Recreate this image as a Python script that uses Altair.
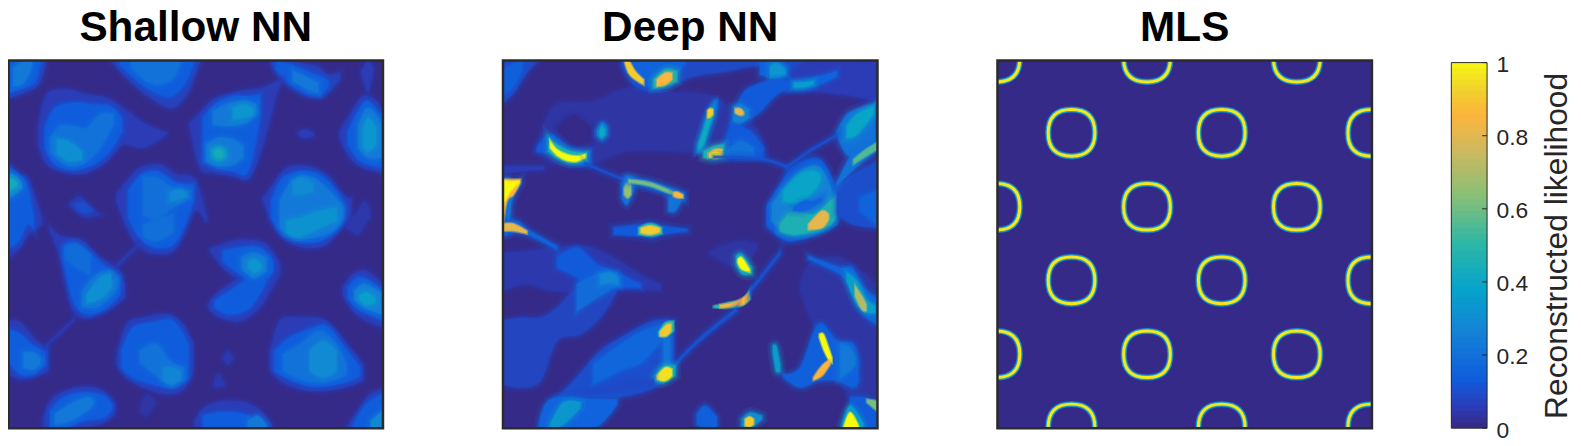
import altair as alt
import pandas as pd

PARULA_STOPS = [0, 0.05, 0.125, 0.25, 0.375, 0.5, 0.625, 0.75, 0.85, 0.92, 1]
PARULA_COLORS = ["#352a87", "#2b3cb6", "#0f5cdd", "#1481d6", "#06a4ca", "#2eb7a4", "#87bf77", "#cdb95f", "#fdb53c", "#f0d22c", "#f9fb0e"]
TITLES = ["Shallow NN", "Deep NN", "MLS"]
COLORBAR_TICKS = [0, 0.2, 0.4, 0.6, 0.8, 1]
COLORBAR_LABEL = "Reconstructed likelihood"
COLORBAR_STEPS = [i / 64 for i in range(64)]

# (likelihood level, [(x, top y, bottom y), ...])
SHALLOW = [
 (.06,[(25,28,140),(70,28,125),(115,28,100),(135,28,40)]),
 (.13,[(25,28,125),(70,28,110),(105,28,90),(120,28,35)]),
 (.22,[(40,50,105),(70,30,95),(95,28,50)]),
 (.06,[(340,28,35),(400,28,100),(460,28,145),(515,28,170),(560,28,130),(590,28,60),(600,28,30)]),
 (.13,[(360,28,40),(420,28,95),(470,28,125),(515,28,135),(555,28,95),(580,28,40)]),
 (.2,[(395,28,50),(440,28,90),(480,28,100),(520,28,80),(540,28,40)]),
 (.06,[(815,28,40),(850,28,90),(900,35,125),(950,45,140),(985,70,125),(1020,65,85)]),
 (.13,[(830,30,55),(870,40,95),(920,60,125),(960,75,130),(985,90,105)]),
 (.22,[(880,60,90),(925,80,115),(955,95,125)]),
 (.05,[(115,230,280),(140,130,340),(200,115,365),(260,130,365),(320,140,330),(370,170,280),(430,215,290),(500,245,250)]),
 (.13,[(135,230,290),(165,170,340),(220,155,355),(280,160,340),(330,165,300),(365,200,240)]),
 (.2,[(150,260,300),(180,225,330),(220,225,345),(260,230,330),(300,190,290),(340,190,220)]),
 (.3,[(170,265,305),(205,270,330),(245,300,325)]),
 (.05,[(570,215,225),(600,185,350),(640,145,365),(700,125,375),(750,115,380),(790,110,280),(830,90,130),(845,85,95)]),
 (.13,[(610,200,330),(650,155,350),(700,135,360),(745,135,360),(780,130,200)]),
 (.22,[(640,180,220),(690,155,225),(740,150,215),(770,160,185)]),
 (.22,[(620,280,330),(655,260,345),(700,265,340),(730,285,320)]),
 (.32,[(700,170,205),(735,160,200),(760,175,190)]),
 (.32,[(635,295,320),(655,285,330),(680,295,320)]),
 (.43,[(645,300,312),(657,295,320),(668,303,315)]),
 (.05,[(1020,240,260),(1050,190,320),(1090,135,350),(1130,150,360),(1150,190,370)]),
 (.13,[(1045,240,280),(1075,180,325),(1105,150,340),(1150,200,350)]),
 (.22,[(1075,225,290),(1105,170,320),(1150,220,320)]),
 (.32,[(1090,235,280),(1105,200,300),(1130,230,280)]),
 (.05,[(25,335,620),(60,375,590),(85,385,550),(125,500,520)]),
 (.13,[(25,350,590),(55,370,570),(80,400,520),(100,500,530)]),
 (.26,[(25,365,440),(50,380,425),(65,400,410)]),
 (.42,[(25,380,420),(40,385,410),(50,395,403)]),
 (.05,[(350,430,450),(380,390,530),(420,350,590),(480,340,610),(530,370,590),(585,385,480),(620,500,515)]),
 (.13,[(385,420,500),(420,375,560),(470,360,590),(530,395,570),(580,400,450)]),
 (.19,[(430,380,490),(470,380,505),(520,410,470),(570,420,440)]),
 (.19,[(430,520,555),(470,505,570),(520,490,545)]),
 (.27,[(510,425,450),(540,415,445),(560,425,435)]),
 (.04,[(205,460,460),(240,435,490),(265,465,500),(305,490,490)]),
 (.09,[(225,460,465),(250,455,485),(275,475,480)]),
 (.05,[(790,440,450),(820,400,520),(860,350,570),(920,345,590),(980,370,580),(1030,430,525),(1055,440,500)]),
 (.13,[(815,450,500),(850,380,550),(920,360,575),(980,385,560),(1035,460,510)]),
 (.22,[(840,450,530),(880,385,560),(940,380,560),(1000,430,540),(1030,470,500)]),
 (.31,[(860,510,545),(900,500,555),(960,480,530),(1010,470,510)]),
 (.28,[(880,390,430),(910,380,430),(940,400,420)]),
 (.04,[(1040,520,530),(1075,480,550),(1095,450,520),(1110,480,500)]),
 (.05,[(150,530,540),(180,555,620),(215,560,770),(250,570,800),(300,620,790),(350,650,760),(375,700,740)]),
 (.13,[(190,585,620),(220,575,750),(260,600,790),(320,650,770),(360,680,730)]),
 (.18,[(195,590,620),(230,580,650),(270,610,670)]),
 (.2,[(245,720,765),(290,670,770),(340,660,730),(355,690,700)]),
 (.3,[(260,730,755),(300,680,745),(335,670,710)]),
 (.05,[(350,640,650),(410,585,590)]),
 (.05,[(630,595,600),(680,575,660),(740,565,700),(800,580,720),(840,640,670)]),
 (.05,[(625,760,770),(660,720,800),(720,680,810),(780,650,770),(820,660,700)]),
 (.13,[(670,600,630),(720,590,670),(780,590,700),(820,630,660)]),
 (.13,[(645,750,770),(690,720,790),(750,680,770),(795,670,700)]),
 (.22,[(725,620,650),(760,605,680),(800,620,660)]),
 (.32,[(745,635,650),(765,625,665),(785,640,650)]),
 (.05,[(1030,710,730),(1060,670,780),(1100,660,810),(1150,700,830)]),
 (.13,[(1045,710,740),(1075,680,775),(1110,690,790),(1150,720,810)]),
 (.24,[(1065,720,745),(1095,700,770),(1150,730,790)]),
 (.36,[(1080,735,745),(1100,725,760),(1125,740,755)]),
 (.05,[(25,810,970),(60,815,985),(110,870,975),(145,890,960)]),
 (.13,[(25,835,930),(60,850,970),(100,885,970),(135,900,940)]),
 (.22,[(70,905,950),(100,905,955),(120,920,940)]),
 (.05,[(140,880,885),(220,805,810)]),
 (.05,[(350,920,940),(380,820,980),(430,800,1010),(500,790,1030),(550,820,1015),(580,880,960)]),
 (.13,[(365,900,950),(400,830,980),(460,815,1000),(520,810,1010),(565,880,980)]),
 (.2,[(420,900,935),(470,880,975),(510,930,1000),(550,950,985)]),
 (.26,[(490,950,985),(515,950,1000),(540,960,985)]),
 (.05,[(810,910,950),(840,810,990),(900,800,1015),(980,810,1020),(1050,890,1005),(1090,940,990)]),
 (.13,[(825,900,960),(870,860,985),(930,835,1005),(980,825,1005),(1035,890,995),(1080,950,975)]),
 (.2,[(850,910,960),(900,880,985),(960,840,995),(1010,880,985),(1040,940,970)]),
 (.28,[(930,900,960),(970,870,980),(1010,900,960)]),
 (.05,[(130,1100,1132),(160,1040,1132),(230,1010,1132),(300,1015,1120),(345,1060,1090)]),
 (.13,[(150,1080,1132),(190,1040,1132),(250,1025,1110),(310,1035,1100),(335,1060,1075)]),
 (.22,[(165,1090,1120),(210,1060,1110),(260,1040,1080),(280,1050,1060)]),
 (.05,[(585,1110,1132),(620,1065,1132),(700,1050,1132),(770,1070,1132),(815,1120,1132)]),
 (.13,[(610,1095,1132),(660,1085,1132),(730,1090,1132),(800,1120,1132)]),
 (.22,[(745,1110,1132),(775,1095,1132),(800,1125,1132)]),
 (.05,[(1040,1132,1132),(1075,1080,1132),(1110,1030,1132),(1150,1015,1132)]),
 (.13,[(1060,1125,1132),(1100,1060,1132),(1150,1030,1132)]),
 (.27,[(1115,1110,1132),(1150,1080,1132)]),
 (.04,[(670,920,925),(685,900,940),(700,920,925)]),
 (.04,[(640,1005,1005),(655,970,1010),(675,1000,1005)]),
 (.03,[(420,1070,1080),(440,1030,1095),(465,1050,1060)]),
 (.05,[(895,245,250),(915,235,260),(940,245,255)]),
 (.05,[(1085,60,65),(1105,30,120),(1120,50,60)]),
]

DEEP = [
 (.03,[(130,290,300),(180,165,340),(300,150,335),(400,110,300),(520,120,300),(640,130,305),(700,160,300),(780,220,300),(810,280,310)]),
 (0,[(195,230,240),(240,195,280),(290,230,270)]),
 (.03,[(650,600,610),(700,580,640),(750,570,650),(790,580,590)]),
 (.03,[(920,700,720),(950,640,800),(1040,620,1000),(1150,700,1100)]),
 (.04,[(28,605,720),(100,600,700),(180,590,720),(300,590,720),(440,670,715),(500,700,720)]),
 (.07,[(28,810,1000),(80,800,1010),(140,800,990),(190,770,870),(260,700,850),(320,690,800),(370,680,720)]),
 (.09,[(190,1040,1045),(250,980,1040),(320,900,1040),(400,850,1035),(480,810,1010),(540,810,960)]),
 (.16,[(300,940,1000),(380,880,960),(450,840,930),(510,820,860)]),
 (.12,[(190,620,650),(250,590,680),(310,640,730),(360,660,710),(440,700,710)]),
 (.18,[(250,700,780),(310,670,740),(370,665,705)]),
 (.27,[(320,670,700),(350,665,695),(375,680,700)]),
 (.08,[(28,28,155),(60,28,125),(95,28,70),(130,28,30)]),
 (.14,[(28,60,130),(55,40,110),(85,28,60)]),
 (.08,[(385,28,40),(420,28,100),(470,28,120),(530,28,105),(600,28,75),(700,28,60),(800,28,45),(880,28,85),(1000,28,75),(1150,28,30)]),
 (.05,[(880,85,120),(950,28,120),(1050,28,130),(1150,28,150)]),
 (.15,[(395,28,50),(420,28,85),(460,28,105),(500,28,110),(545,28,80),(575,28,30)]),
 (.45,[(480,85,110),(515,55,105),(550,60,90)]),
 (.85,[(490,85,105),(515,65,100),(535,65,85)]),
 (.9,[(393,28,30),(405,28,65),(425,60,85),(450,85,100)]),
 (.15,[(800,35,70),(850,30,85),(880,45,75)]),
 (.32,[(830,45,80),(850,35,80),(875,55,70)]),
 (.15,[(885,90,115),(930,85,115),(980,75,100),(1030,60,75)]),
 (.35,[(900,95,108),(930,93,108),(960,90,100)]),
 (.12,[(690,290,310),(740,140,220),(790,100,190),(850,85,130),(885,90,115)]),
 (.25,[(720,165,210),(740,160,215),(765,175,200)]),
 (.8,[(725,172,185),(740,172,192),(750,182,190)]),
 (.15,[(610,290,305),(625,240,300),(640,190,260),(660,150,200),(672,150,170)]),
 (.4,[(615,280,295),(630,235,280),(645,190,230),(658,170,195)]),
 (.9,[(642,178,200),(650,172,198),(658,175,190)]),
 (.12,[(690,310,315),(720,230,320),(770,240,320),(810,290,320)]),
 (.2,[(700,300,312),(740,270,315),(780,290,315)]),
 (.45,[(630,300,320),(660,285,325),(690,280,320)]),
 (.85,[(645,305,318),(665,295,322),(685,295,318)]),
 (1,[(650,308,316),(668,303,320),(680,310,316)]),
 (.1,[(660,315,320),(800,320,325),(880,345,350)]),
 (.12,[(130,290,300),(170,250,310),(230,290,340),(290,300,340)]),
 (.45,[(165,260,300),(190,280,320),(230,300,335),(280,305,330)]),
 (1,[(170,270,290),(190,295,312),(220,310,328),(250,315,330),(275,310,320)]),
 (.18,[(310,240,250),(325,215,265),(340,225,250)]),
 (.4,[(318,240,252),(325,225,258),(333,235,250)]),
 (.1,[(275,335,340),(400,385,390),(570,430,440)]),
 (.05,[(28,345,365),(150,345,355)]),
 (.2,[(28,380,550),(45,380,540),(55,390,450),(80,385,400)]),
 (.15,[(28,510,550),(70,510,545),(110,540,555),(190,585,595)]),
 (.85,[(28,385,520),(40,385,450),(60,385,430),(80,385,395)]),
 (1,[(28,388,460),(50,392,420),(75,390,395)]),
 (.8,[(28,518,540),(60,518,540),(100,540,548)]),
 (.2,[(385,400,440),(400,375,460),(420,380,420)]),
 (.65,[(392,410,430),(402,390,440),(412,400,430)]),
 (.2,[(400,380,395),(470,390,410),(570,425,445)]),
 (.6,[(405,385,395),(470,395,405),(545,425,435)]),
 (.2,[(525,440,480),(545,430,480),(565,440,445)]),
 (.85,[(540,425,435),(552,423,440),(568,432,440)]),
 (.12,[(360,530,550),(440,520,555),(475,515,560),(510,525,550),(580,535,540)]),
 (.5,[(435,530,550),(470,517,555),(505,530,548)]),
 (.9,[(442,532,545),(470,525,550),(498,532,543)]),
 (.4,[(728,615,640),(745,610,668),(775,650,670)]),
 (1,[(733,625,635),(745,620,655),(768,655,662)]),
 (.5,[(660,765,770),(700,755,772),(745,745,765),(770,715,745)]),
 (.85,[(680,762,770),(720,755,765),(750,740,760),(765,725,745)]),
 (.1,[(770,715,725),(860,600,610)]),
 (.1,[(540,940,950),(620,860,870),(730,770,780)]),
 (.2,[(510,860,950),(530,850,950)]),
 (.5,[(495,845,855),(515,815,858),(540,810,840)]),
 (.9,[(500,842,855),(518,822,855),(532,820,840)]),
 (.4,[(480,980,990),(510,945,995),(545,945,975)]),
 (.95,[(490,975,985),(515,950,990),(535,955,975)]),
 (.08,[(200,1040,1040),(480,985,1000)]),
 (.15,[(135,1132,1132),(170,1045,1132),(300,1045,1132),(370,1045,1060)]),
 (.33,[(170,1120,1132),(210,1055,1120),(260,1055,1070)]),
 (.14,[(610,1090,1120),(635,1065,1132),(670,1100,1130)]),
 (.3,[(745,1105,1125),(770,1085,1132),(805,1095,1105)]),
 (.9,[(755,1105,1125),(768,1098,1128),(780,1105,1120)]),
 (.12,[(1070,1040,1132),(1110,1040,1132),(1150,1060,1132)]),
 (.35,[(1045,1125,1132),(1070,1065,1132),(1110,1120,1132)]),
 (1,[(1050,1132,1132),(1070,1085,1132),(1095,1125,1132)]),
 (.6,[(1120,1045,1055),(1150,1050,1080)]),
 (.14,[(870,970,980),(920,950,1010),(975,820,990),(1030,870,990),(1080,880,1010),(1095,950,990)]),
 (.22,[(1040,880,980),(1070,890,960),(1085,920,940)]),
 (.35,[(838,885,900),(848,885,960),(860,940,960)]),
 (1,[(978,850,860),(990,850,895),(1005,890,925),(1015,920,935)]),
 (.85,[(960,980,988),(985,945,975),(1010,925,940)]),
 (.15,[(945,615,625),(1040,650,670),(1075,650,720),(1110,710,790),(1150,740,820)]),
 (.35,[(1060,665,690),(1090,690,760),(1120,745,785),(1145,765,785)]),
 (.7,[(1085,705,735),(1105,735,775),(1118,760,780)]),
 (.12,[(820,465,525),(860,400,560),(900,345,570),(980,325,545),(1030,420,520)]),
 (.25,[(835,460,510),(880,400,550),(930,355,550),(980,350,540),(1020,430,510)]),
 (.38,[(870,420,450),(920,370,455),(960,360,420),(980,370,390)]),
 (.45,[(860,520,540),(900,480,550),(960,490,540),(1010,450,520),(1030,430,490)]),
 (.15,[(900,470,480),(930,450,480),(960,450,465),(985,440,450)]),
 (.8,[(945,520,535),(985,480,530),(1005,490,505)]),
 (.2,[(1030,240,250),(1060,190,310),(1100,170,300),(1145,155,270)]),
 (.38,[(1060,225,260),(1090,190,250),(1140,165,190)]),
 (.09,[(1030,410,490),(1080,370,520),(1150,330,530)]),
 (.15,[(1100,440,480),(1150,420,520)]),
 (.2,[(1030,395,405),(1075,310,360),(1110,290,330),(1150,265,300)]),
 (.55,[(1080,325,340),(1110,300,320),(1150,275,295)]),
 (.1,[(880,345,350),(960,290,295),(1030,250,255)]),
]

# ring centres of the MLS panel
RING_X_A = [250, 700, 1148]
RING_Y_A = [245, 688, 1130]
RING_X_B = [25, 476, 925]
RING_Y_B = [22, 467, 910]
RING_PATH = "M0,-1 C0.66,-1 1,-0.66 1,0 C1,0.66 0.66,1 0,1 C-0.66,1 -1,0.66 -1,0 C-1,-0.66 -0.66,-1 0,-1 Z"

W, H = 377, 370
BAR_W = 36
BG = "#352a87"
color_scale = alt.Scale(domain=PARULA_STOPS, range=PARULA_COLORS, interpolate="rgb")
panel_view = alt.ViewBackground(fill=BG, stroke=None)


def title(text):
    return alt.Title(text, fontSize=42.6, fontWeight="bold", font="Liberation Sans",
                     color="#000000", anchor="middle", offset=9.5)


def frame():
    return alt.Chart(pd.DataFrame({"f": [0]})).mark_rect(
        filled=False, stroke="#2b2b2b", strokeWidth=2.5
    ).encode(x=alt.value(0), x2=alt.value(W), y=alt.value(0), y2=alt.value(H))


def contour_panel(contours, xdom, ydom, name):
    rows = []
    n = 0
    for v, slices in contours:
        # soft edge: wide faint outlines first, then the filled level itself
        passes = [(11, .14, 0), (6, .22, 0), (2.5, .45, 1)] if v < .5 else [(2.5, .5, 1)]
        for sw, so, fo in passes:
            for x, t, b in slices:
                rows.append({"id": n, "v": v, "x": x, "t": t, "b": b, "sw": sw, "so": so, "fo": fo})
            n += 1
    df = pd.DataFrame(rows)
    a = alt.Chart(df).mark_area(interpolate="cardinal", clip=True).encode(
        x=alt.X("x:Q", axis=None, scale=alt.Scale(domain=xdom, nice=False, zero=False)),
        y=alt.Y("t:Q", axis=None, stack=None, scale=alt.Scale(domain=ydom, nice=False, zero=False)),
        y2="b:Q",
        color=alt.Color("v:Q", scale=color_scale, legend=None),
        stroke=alt.Stroke("v:Q", scale=color_scale, legend=None),
        strokeWidth=alt.StrokeWidth("sw:Q", scale=None),
        strokeOpacity=alt.StrokeOpacity("so:Q", scale=None),
        fillOpacity=alt.FillOpacity("fo:Q", scale=None),
        detail="id:N",
    )
    return alt.layer(a, frame()).properties(width=W, height=H, title=title(name), view=panel_view)


rings = pd.DataFrame(
    [{"x": x, "y": y} for y in RING_Y_A for x in RING_X_A]
    + [{"x": x, "y": y} for y in RING_Y_B for x in RING_X_B]
)


def ring_layer(width, value):
    return alt.Chart(rings).mark_point(
        shape=RING_PATH, filled=False, size=2209, strokeWidth=width, opacity=1, clip=True,
    ).encode(
        x=alt.X("x:Q", axis=None, scale=alt.Scale(domain=[28, 1150], nice=False, zero=False)),
        y=alt.Y("y:Q", axis=None, scale=alt.Scale(domain=[1132, 28], nice=False, zero=False)),
        stroke=alt.value(value),
    )


mls = alt.layer(
    ring_layer(6.5, "#1b63c8"), ring_layer(5, "#1fa5bf"), ring_layer(3, "#f9e61a"), frame()
).properties(width=W, height=H, title=title(TITLES[2]), view=panel_view)

bar_df = pd.DataFrame({"v": COLORBAR_STEPS})
bar_df["lo"] = bar_df["v"]
bar_df["hi"] = [min(1, s + 2 / 64) for s in COLORBAR_STEPS]
y_axis = alt.Axis(orient="right", values=COLORBAR_TICKS, labelExpr="format(datum.value, '~g')",
                  ticks=False, domain=False, grid=False, labelPadding=9, labelFontSize=23,
                  labelOffset=2, labelColor="#262626", labelFont="Liberation Sans", title=COLORBAR_LABEL,
                  titleFontSize=32, titleFontWeight="normal", titleColor="#262626",
                  titleFont="Liberation Sans", titlePadding=14, titleAngle=270, titleBaseline="top",
                  titleY=186)
bar_y = alt.Scale(domain=[0, 1], nice=False, range=[H, 2])
bar = alt.Chart(bar_df).mark_rect().encode(
    x=alt.value(0), x2=alt.value(BAR_W),
    y=alt.Y("lo:Q", axis=y_axis, scale=bar_y),
    y2="hi:Q",
    color=alt.Color("v:Q", scale=color_scale, legend=None),
)
ticks = alt.Chart(pd.DataFrame({"t": COLORBAR_TICKS})).mark_rule(color="#262626", strokeWidth=1).encode(
    x=alt.value(BAR_W - 5), x2=alt.value(BAR_W), y=alt.Y("t:Q", axis=y_axis, scale=bar_y))
bar_frame = alt.Chart(pd.DataFrame({"f": [0]})).mark_rect(filled=False, stroke="#2b2b2b", strokeWidth=1).encode(
    x=alt.value(0), x2=alt.value(BAR_W), y=alt.value(2), y2=alt.value(H))
colorbar = alt.layer(bar, bar_frame, ticks).properties(width=BAR_W, height=H)

panels = alt.hconcat(
    contour_panel(SHALLOW, [25, 1150], [1132, 28], TITLES[0]),
    contour_panel(DEEP, [28, 1152], [1132, 28], TITLES[1]),
    mls,
    spacing=116.8,
)
chart = alt.hconcat(panels, colorbar, spacing=77.5).properties(
    padding={"left": -1.5, "top": -2.5, "right": 0, "bottom": 0}
).configure_view(fill=None, stroke=None)
chart.save("out.html", embed_options={"renderer": "svg", "actions": False})
